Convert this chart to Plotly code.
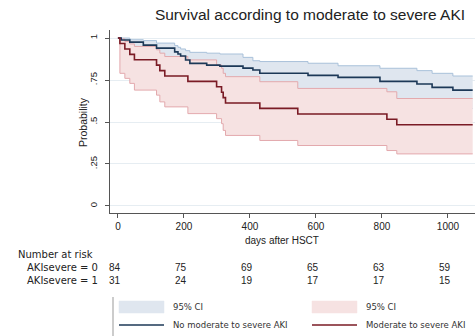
import plotly.graph_objects as go

# ---------------- data ----------------
# No moderate to severe AKI (AKIsevere = 0)
navy_t = [0, 10, 36, 77, 117, 172, 182, 190, 205, 218, 269, 309, 379, 409, 430, 576, 667, 794, 906, 952, 1015, 1075]
navy_s = [1.0, 0.988, 0.976, 0.958, 0.940, 0.918, 0.905, 0.893, 0.869, 0.849, 0.839, 0.833, 0.821, 0.810, 0.790, 0.778, 0.766, 0.742, 0.726, 0.706, 0.690, 0.690]
navy_up = [1.0, 1.0, 0.99, 0.985, 0.97, 0.955, 0.945, 0.935, 0.925, 0.915, 0.91, 0.905, 0.885, 0.865, 0.86, 0.85, 0.835, 0.82, 0.806, 0.79, 0.774, 0.774]
navy_lo = [1.0, 0.92, 0.91, 0.89, 0.87, 0.84, 0.83, 0.81, 0.78, 0.76, 0.75, 0.74, 0.72, 0.71, 0.69, 0.67, 0.66, 0.63, 0.61, 0.59, 0.58, 0.58]

# Moderate to severe AKI (AKIsevere = 1)
red_t = [0, 6, 21, 36, 50, 117, 127, 142, 212, 299, 314, 319, 326, 430, 545, 815, 845, 1075]
red_s = [1.0, 0.968, 0.935, 0.903, 0.871, 0.839, 0.806, 0.774, 0.742, 0.710, 0.677, 0.645, 0.613, 0.581, 0.548, 0.516, 0.484, 0.484]
red_up = [1.0, 0.995, 0.98, 0.965, 0.95, 0.93, 0.91, 0.89, 0.87, 0.84, 0.82, 0.79, 0.77, 0.74, 0.70, 0.68, 0.64, 0.64]
red_lo = [1.0, 0.79, 0.76, 0.73, 0.69, 0.66, 0.62, 0.59, 0.55, 0.52, 0.49, 0.45, 0.42, 0.39, 0.36, 0.33, 0.31, 0.31]

x_ticks = [0, 200, 400, 600, 800, 1000]
x_ticktext = ["0", "200", "400", "600", "800", "1000"]
y_ticks = [0, 0.25, 0.5, 0.75, 1]
y_ticktext = ["0", ".25", ".5", ".75", "1"]

risk_labels = ["AKIsevere = 0", "AKIsevere = 1"]
risk_0 = [84, 75, 69, 65, 63, 59]
risk_1 = [31, 24, 19, 17, 17, 15]

title_text = "Survival according to moderate to severe AKI"
legend_labels = ["95% CI", "95% CI", "No moderate to severe AKI", "Moderate to severe AKI"]

# ---------------- styling ----------------
FONT = "Liberation Sans, Arial, sans-serif"
WIDE = "DejaVu Sans, Liberation Sans, sans-serif"
NAVY = "#1c3857"
DRED = "#7a1b25"
BLUE_FILL = "#dfe6ef"
BLUE_EDGE = "#a9c1da"
PINK_FILL = "#f6e2e2"
PINK_EDGE = "#e3a9ad"
GRID = "#e6edf2"
AXIS = "#555555"
TXT = "#222222"

W, H = 475, 336
L, T, BOT = 110, 30, 213
PW, PH = W - L, BOT - T


def pxx(px):
    return (px - L) / PW


def pxy(py):
    return (BOT - py) / PH


fig = go.Figure()

# blue CI band
fig.add_trace(go.Scatter(x=navy_t, y=navy_up, mode="lines", line=dict(color=BLUE_EDGE, width=1, shape="hv"),
                         showlegend=False, hoverinfo="skip"))
fig.add_trace(go.Scatter(x=navy_t, y=navy_lo, mode="lines", line=dict(color=BLUE_EDGE, width=1, shape="hv"),
                         fill="tonexty", fillcolor=BLUE_FILL, showlegend=False, hoverinfo="skip"))
# red CI band
fig.add_trace(go.Scatter(x=red_t, y=red_up, mode="lines", line=dict(color=PINK_EDGE, width=1, shape="hv"),
                         showlegend=False, hoverinfo="skip"))
fig.add_trace(go.Scatter(x=red_t, y=red_lo, mode="lines", line=dict(color=PINK_EDGE, width=1, shape="hv"),
                         fill="tonexty", fillcolor=PINK_FILL, showlegend=False, hoverinfo="skip"))
# estimates
fig.add_trace(go.Scatter(x=navy_t, y=navy_s, mode="lines", line=dict(color=NAVY, width=1.6, shape="hv"),
                         name=legend_labels[2], showlegend=False))
fig.add_trace(go.Scatter(x=red_t, y=red_s, mode="lines", line=dict(color=DRED, width=1.6, shape="hv"),
                         name=legend_labels[3], showlegend=False))


def ann(text, px, py, size, xanchor="center", color=TXT, family=FONT, **kw):
    return dict(text=text, x=pxx(px), y=pxy(py), xref="paper", yref="paper", xanchor=xanchor,
                yanchor="middle", showarrow=False, font=dict(size=size, color=color, family=family), **kw)


annotations = []
annotations.append(ann("Probability", 83, 122, 10.5, textangle=-90))
annotations.append(ann("days after HSCT", 282, 240, 10))
annotations.append(ann("Number at risk", 16, 254, 10, xanchor="left", family=WIDE))
for lab, row, py in [(risk_labels[0], risk_0, 267), (risk_labels[1], risk_1, 280)]:
    annotations.append(ann(lab, 100, py, 10, xanchor="right", family=WIDE))
    for xv, n in zip(x_ticks, row):
        annotations.append(dict(text=str(n), x=xv, y=pxy(py), xref="x", yref="paper", xshift=-3,
                                xanchor="center", yanchor="middle", showarrow=False,
                                font=dict(size=10, color=TXT, family=FONT)))

# legend (drawn manually)
shapes = []
shapes.append(dict(type="line", xref="paper", yref="paper", x0=pxx(113), x1=pxx(113), y0=pxy(297), y1=pxy(336),
                   line=dict(color="#999", width=1)))
shapes.append(dict(type="rect", xref="paper", yref="paper", x0=pxx(119), x1=pxx(164), y0=pxy(301), y1=pxy(313),
                   fillcolor=BLUE_FILL, line=dict(color=BLUE_FILL, width=0.5)))
shapes.append(dict(type="rect", xref="paper", yref="paper", x0=pxx(312), x1=pxx(357), y0=pxy(301), y1=pxy(313),
                   fillcolor=PINK_FILL, line=dict(color=PINK_FILL, width=0.5)))
shapes.append(dict(type="line", xref="paper", yref="paper", x0=pxx(119), x1=pxx(164), y0=pxy(325), y1=pxy(325),
                   line=dict(color=NAVY, width=1.6)))
shapes.append(dict(type="line", xref="paper", yref="paper", x0=pxx(312), x1=pxx(357), y0=pxy(325), y1=pxy(325),
                   line=dict(color=DRED, width=1.6)))
for txt, px, py in [(legend_labels[0], 171, 307), (legend_labels[1], 364, 307),
                    (legend_labels[2], 171, 325), (legend_labels[3], 364, 325)]:
    annotations.append(ann(txt, px, py, 8.5, xanchor="left", color="#333", family=WIDE))

fig.update_layout(
    width=W, height=H,
    margin=dict(l=L, r=W - L - PW, t=T, b=H - BOT, pad=0),
    paper_bgcolor="white", plot_bgcolor="white",
    font=dict(family=FONT, size=9, color=TXT),
    title=dict(text=title_text, x=310 / W, xref="container", xanchor="center",
               y=1 - 15 / H, yref="container", yanchor="middle",
               font=dict(size=15.5, color=TXT, family=FONT)),
    showlegend=False,
    annotations=annotations,
    shapes=shapes,
)
fig.update_xaxes(range=[-24, 1082], tickvals=x_ticks, ticktext=x_ticktext, showgrid=False, zeroline=False,
                 showline=True, linecolor=AXIS, linewidth=1, ticks="outside", ticklen=4, tickcolor=AXIS,
                 tickfont=dict(size=10, color=TXT, family=FONT))
fig.update_yaxes(range=[-0.042, 1.048], tickvals=y_ticks, ticktext=y_ticktext, showgrid=True, gridcolor=GRID,
                 gridwidth=1, zeroline=False, showline=True, linecolor=AXIS, linewidth=1, ticks="outside",
                 ticklen=4, tickcolor=AXIS, tickangle=-90, ticklabelstandoff=4,
                 tickfont=dict(size=9.5, color=TXT, family=FONT))

fig.write_html("out.html")
